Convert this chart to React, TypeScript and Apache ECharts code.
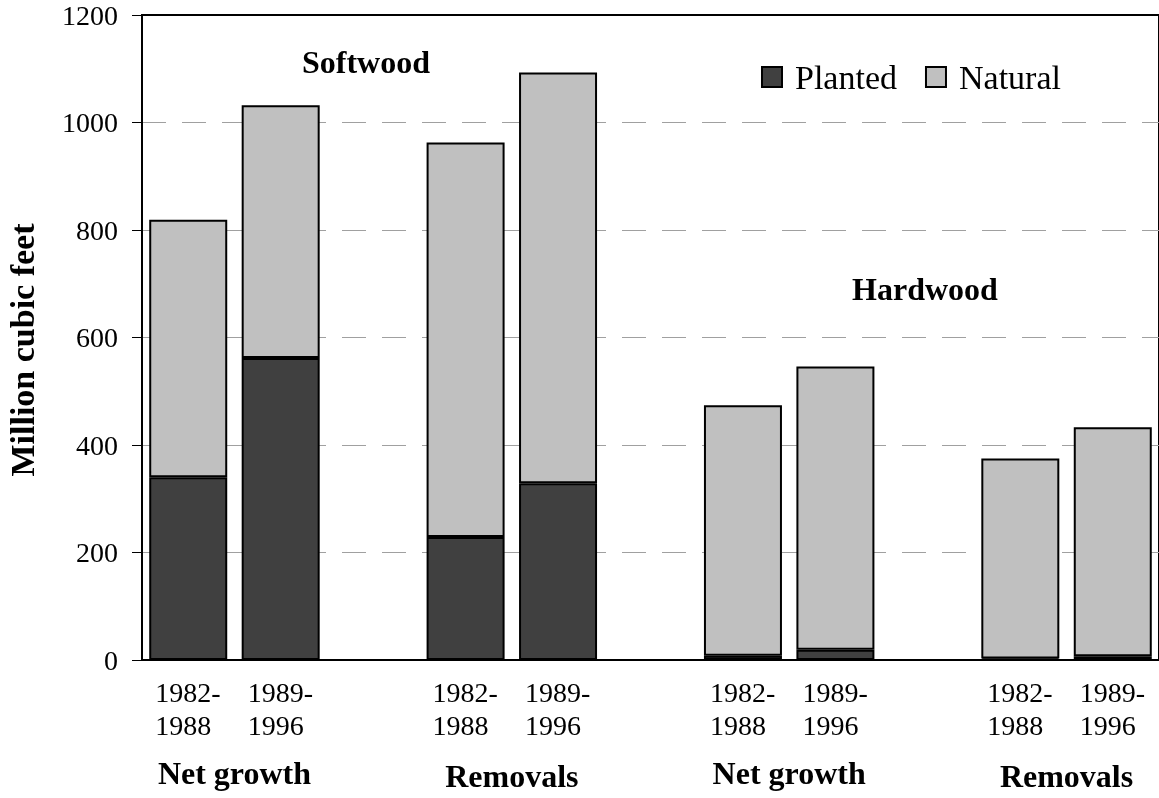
import React, { useEffect, useRef } from "react";
import * as echarts from "echarts";

const categories = [
  "1982-\n1988", "1989-\n1996", "",
  "1982-\n1988", "1989-\n1996", "",
  "1982-\n1988", "1989-\n1996", "",
  "1982-\n1988", "1989-\n1996",
];
const planted = [340, 562, null, 229, 329, null, 8, 19, null, 3, 7];
const natural = [479, 470, null, 734, 764, null, 466, 527, null, 372, 426];
const groupLabels = ["Net growth", "Removals", "Net growth", "Removals"];
const groupStarts = [0, 3, 6, 9];
const yTicks = { min: 0, max: 1200, interval: 200 };

const FONT = "'Liberation Serif', 'Times New Roman', serif";

export default function App() {
  const ref = useRef<HTMLDivElement>(null);
  useEffect(() => {
    if (!ref.current) return;
    const chart = echarts.init(ref.current, null, { renderer: "svg" });
    chart.setOption({
      animation: false,
      textStyle: { fontFamily: FONT, color: "#000" },
      grid: { left: 142, top: 15, width: 1022, height: 645, show: true, borderColor: "#000", borderWidth: 2 },
      legend: {
        left: 756,
        top: 55,
        itemWidth: 20,
        itemHeight: 20,
        itemGap: 28,
        icon: "rect",
        textStyle: { fontFamily: FONT, fontSize: 34, color: "#000", padding: [0, 0, 0, 8] },
        data: ["Planted", "Natural"],
      },
      xAxis: {
        type: "category",
        data: categories,
        axisLine: { show: true, lineStyle: { color: "#000", width: 2 } },
        axisTick: { show: false },
        axisLabel: {
          fontFamily: FONT,
          fontSize: 28,
          color: "#000",
          lineHeight: 33,
          margin: 16,
          interval: 0,
          formatter: (v: string) => (v ? v.split("\n").map((s) => `{a|${s}}`).join("\n") : ""),
          rich: { a: { fontFamily: FONT, fontSize: 28, color: "#000", lineHeight: 33, width: 66, align: "left" } },
        },
        splitLine: { show: false },
      },
      yAxis: {
        type: "value",
        min: yTicks.min,
        max: yTicks.max,
        interval: yTicks.interval,
        axisLine: { show: true, lineStyle: { color: "#000", width: 2 } },
        axisTick: { show: true, length: 10, inside: false, lineStyle: { color: "#000", width: 1 } },
        axisLabel: { fontFamily: FONT, fontSize: 28, color: "#000", margin: 24, formatter: (v: number) => String(v) },
        splitLine: { show: true, showMinLine: false, showMaxLine: false, lineStyle: { color: "#a0a0a0", width: 1, type: [24, 16] } },
      },
      series: [
        {
          name: "Planted",
          type: "bar",
          stack: "total",
          data: planted,
          barWidth: 78,
          itemStyle: { color: "#404040", borderColor: "#000", borderWidth: 2 },
        },
        {
          name: "Natural",
          type: "bar",
          stack: "total",
          data: natural,
          barWidth: 78,
          itemStyle: { color: "#c0c0c0", borderColor: "#000", borderWidth: 2 },
        },
      ],
    });
    const texts: any[] = groupStarts.map((s, i) => {
      const a = chart.convertToPixel({ xAxisIndex: 0 }, s) as number;
      const b = chart.convertToPixel({ xAxisIndex: 0 }, s + 1) as number;
      return {
        type: "text",
        x: (a + b) / 2,
        y: i % 2 === 0 ? 773 : 776,
        style: { text: groupLabels[i], font: `bold 32px ${FONT}`, fill: "#000", align: "center", verticalAlign: "middle" },
      };
    });
    texts.push(
      { type: "text", x: 366, y: 62, style: { text: "Softwood", font: `bold 32px ${FONT}`, fill: "#000", align: "center", verticalAlign: "middle" } },
      { type: "text", x: 925, y: 289, style: { text: "Hardwood", font: `bold 32px ${FONT}`, fill: "#000", align: "center", verticalAlign: "middle" } },
      { type: "text", x: 22, y: 350, rotation: Math.PI / 2, style: { text: "Million cubic feet", font: `bold 34px ${FONT}`, fill: "#000", align: "center", verticalAlign: "middle" } }
    );
    chart.setOption({ graphic: texts });
    return () => chart.dispose();
  }, []);
  return <div ref={ref} style={{ position: "fixed", left: 0, top: 0, width: 1159, height: 798 }} />;
}
